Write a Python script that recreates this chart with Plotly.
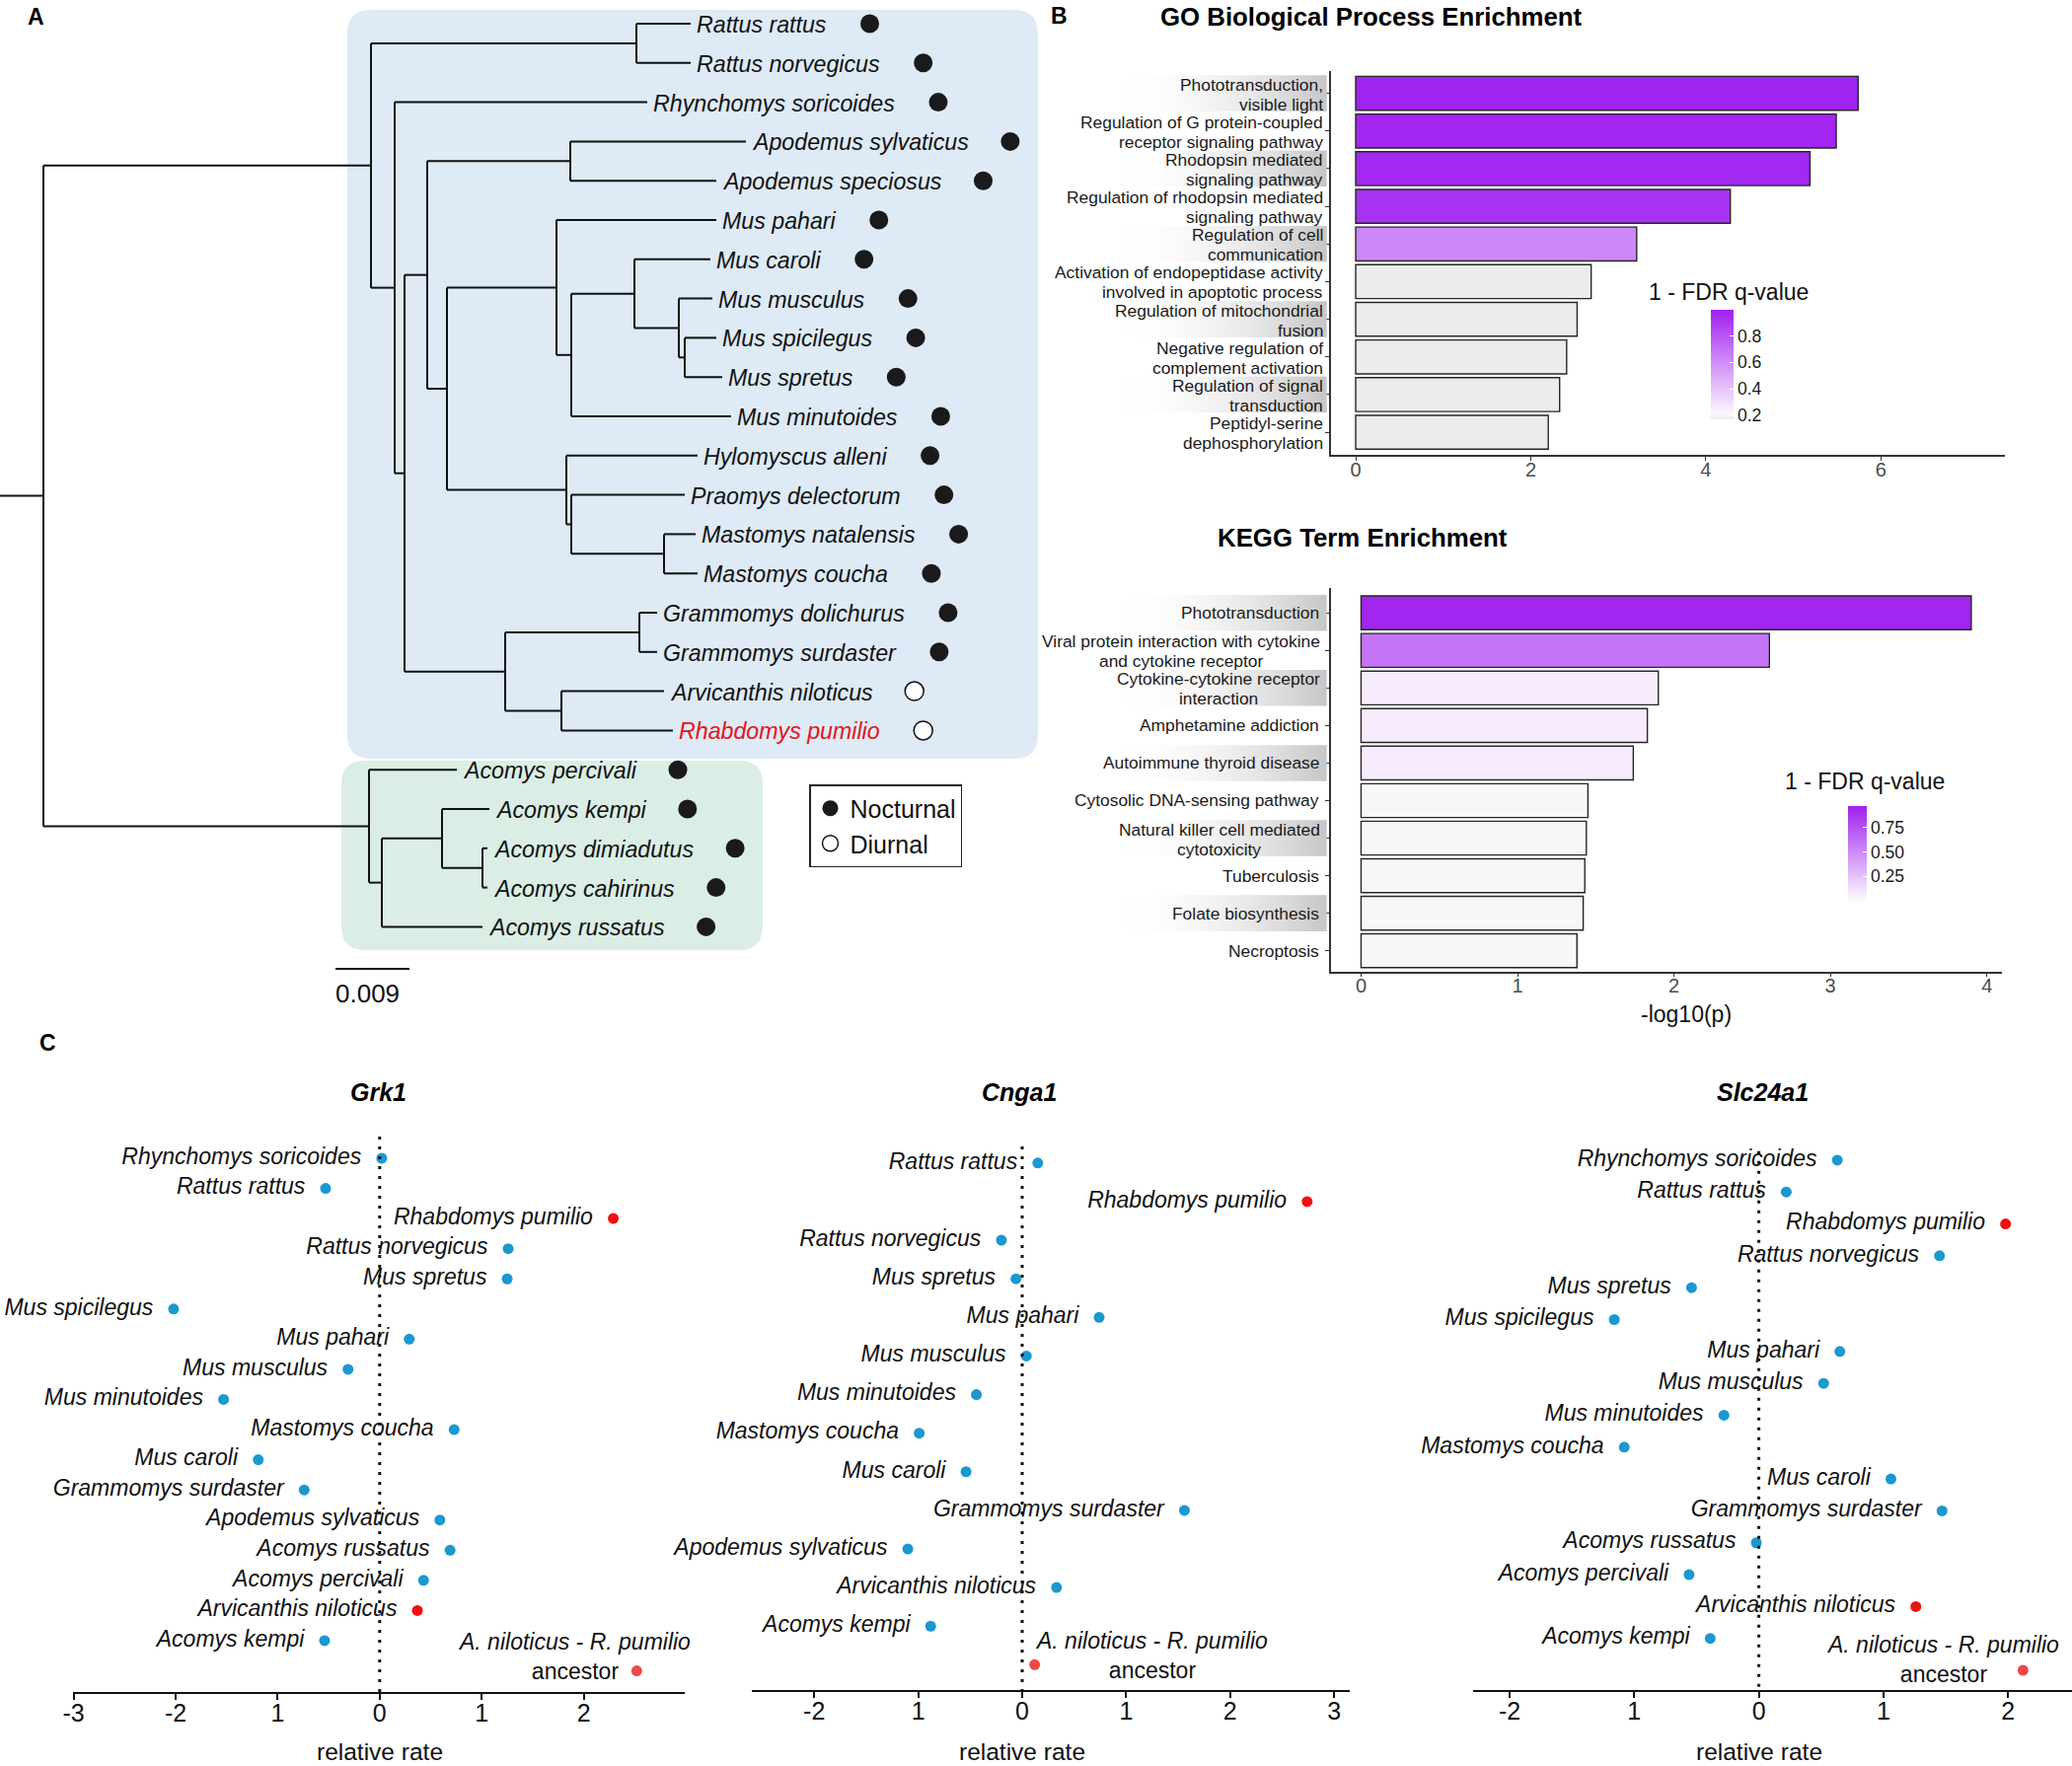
import plotly.graph_objects as go

W, H = 2100, 1790
FONT = "Liberation Sans, Arial, Helvetica, sans-serif"

# ======================= DATA =======================
# Panel A: species tree (Newick, branch lengths in substitutions/site)
tree_newick = (
    "(((Rattus_rattus:0.0066,Rattus_norvegicus:0.0066):0.03228,"
    "(Rhynchomys_soricoides:0.03072,"
    "(((Apodemus_sylvaticus:0.02136,Apodemus_speciosus:0.01776):0.0174,"
    "((Mus_pahari:0.01944,((Mus_caroli:0.00924,(Mus_musculus:0.00408,"
    "(Mus_spicilegus:0.00384,Mus_spretus:0.00456):0.00072):0.0054):0.00768,"
    "Mus_minutoides:0.01944):0.0018):0.01332,"
    "(Hylomyscus_alleni:0.01596,(Praomys_delectorum:0.0138,"
    "(Mastomys_natalensis:0.00384,Mastomys_coucha:0.00408):0.01128):0.0006):0.01452"
    "):0.0024):0.00276,"
    "((Grammomys_dolichurus:0.00216,Grammomys_surdaster:0.00216):0.01632,"
    "(Arvicanthis_niloticus:0.01248,Rhabdomys_pumilio:0.01356):0.00684):0.01224"
    "):0.0012):0.00288):0.03984,"
    "(Acomys_percivali:0.01068,((Acomys_kempi:0.00576,"
    "(Acomys_dimiadutus:0.0006,Acomys_cahirinus:0.0006):0.00492):0.00732,"
    "Acomys_russatus:0.01224):0.00156):0.0396):0.00528;"
)
diurnal_species = ["Arvicanthis niloticus", "Rhabdomys pumilio"]
focal_species = "Rhabdomys pumilio"
scale_bar_length = 0.009
scale_bar_label = "0.009"

# Panel B: GO enrichment
go_terms = [
    "Phototransduction,\nvisible light",
    "Regulation of G protein-coupled\nreceptor signaling pathway",
    "Rhodopsin mediated\nsignaling pathway",
    "Regulation of rhodopsin mediated\nsignaling pathway",
    "Regulation of cell\ncommunication",
    "Activation of endopeptidase activity\ninvolved in apoptotic process",
    "Regulation of mitochondrial\nfusion",
    "Negative regulation of\ncomplement activation",
    "Regulation of signal\ntransduction",
    "Peptidyl-serine\ndephosphorylation",
]
go_log10p = [5.74, 5.49, 5.19, 4.28, 3.21, 2.69, 2.53, 2.41, 2.33, 2.20]
go_one_minus_fdr = [0.99, 0.98, 0.97, 0.93, 0.62, 0.17, 0.17, 0.17, 0.17, 0.17]
go_ticks = [0, 2, 4, 6]

# Panel B: KEGG enrichment
kegg_terms = [
    "Phototransduction",
    "Viral protein interaction with cytokine\nand cytokine receptor",
    "Cytokine-cytokine receptor\ninteraction",
    "Amphetamine addiction",
    "Autoimmune thyroid disease",
    "Cytosolic DNA-sensing pathway",
    "Natural killer cell mediated\ncytotoxicity",
    "Tuberculosis",
    "Folate biosynthesis",
    "Necroptosis",
]
kegg_log10p = [3.90, 2.61, 1.90, 1.83, 1.74, 1.45, 1.44, 1.43, 1.42, 1.38]
kegg_one_minus_fdr = [0.95, 0.60, 0.07, 0.07, 0.07, 0.0, 0.0, 0.0, 0.0, 0.0]
kegg_ticks = [0, 1, 2, 3, 4]

# Panel C: relative evolutionary rates
ANCESTOR = "A. niloticus - R. pumilio ancestor"
grk1_species = ["Rhynchomys soricoides", "Rattus rattus", "Rhabdomys pumilio", "Rattus norvegicus",
                "Mus spretus", "Mus spicilegus", "Mus pahari", "Mus musculus", "Mus minutoides",
                "Mastomys coucha", "Mus caroli", "Grammomys surdaster", "Apodemus sylvaticus",
                "Acomys russatus", "Acomys percivali", "Arvicanthis niloticus", "Acomys kempi", ANCESTOR]
grk1_rate = [0.02, -0.53, 2.29, 1.26, 1.25, -2.02, 0.29, -0.31, -1.53, 0.73, -1.19, -0.74, 0.59,
             0.69, 0.43, 0.37, -0.54, 2.52]
grk1_highlight = ["Rhabdomys pumilio", "Arvicanthis niloticus"]

cnga1_species = ["Rattus rattus", "Rhabdomys pumilio", "Rattus norvegicus", "Mus spretus", "Mus pahari",
                 "Mus musculus", "Mus minutoides", "Mastomys coucha", "Mus caroli", "Grammomys surdaster",
                 "Apodemus sylvaticus", "Arvicanthis niloticus", "Acomys kempi", ANCESTOR]
cnga1_rate = [0.15, 2.74, -0.20, -0.06, 0.74, 0.04, -0.44, -0.99, -0.54, 1.56, -1.10, 0.33, -0.88, 0.12]
cnga1_highlight = ["Rhabdomys pumilio"]

slc24a1_species = ["Rhynchomys soricoides", "Rattus rattus", "Rhabdomys pumilio", "Rattus norvegicus",
                   "Mus spretus", "Mus spicilegus", "Mus pahari", "Mus musculus", "Mus minutoides",
                   "Mastomys coucha", "Mus caroli", "Grammomys surdaster", "Acomys russatus",
                   "Acomys percivali", "Arvicanthis niloticus", "Acomys kempi", ANCESTOR]
slc24a1_rate = [0.63, 0.22, 1.98, 1.45, -0.54, -1.16, 0.65, 0.52, -0.28, -1.08, 1.06, 1.47, -0.02,
                -0.56, 1.26, -0.39, 2.12]
slc24a1_highlight = ["Rhabdomys pumilio", "Arvicanthis niloticus"]

# ======================= HELPERS =======================
def PX(p):
    return p / W


def PY(p):
    return 1 - p / H


ARIAL_W = {' ': 278, '.': 278, '-': 333, ',': 278,
           'A': 667, 'B': 667, 'C': 722, 'D': 722, 'E': 667, 'F': 611, 'G': 778, 'H': 722, 'I': 278,
           'J': 500, 'K': 667, 'L': 556, 'M': 833, 'N': 722, 'O': 778, 'P': 667, 'Q': 778, 'R': 722,
           'S': 667, 'T': 611, 'U': 722, 'V': 667, 'W': 944, 'X': 667, 'Y': 667, 'Z': 611,
           'a': 556, 'b': 556, 'c': 500, 'd': 556, 'e': 556, 'f': 278, 'g': 556, 'h': 556, 'i': 222,
           'j': 222, 'k': 500, 'l': 222, 'm': 833, 'n': 556, 'o': 556, 'p': 556, 'q': 556, 'r': 333,
           's': 500, 't': 278, 'u': 556, 'v': 500, 'w': 722, 'x': 500, 'y': 500, 'z': 500}


def text_px(s, size):
    return sum(ARIAL_W.get(ch, 556) for ch in s) * size / 1000.0


def parse_newick(s):
    s = s.strip().rstrip(';')
    pos = [0]

    def node():
        children = []
        if s[pos[0]] == '(':
            pos[0] += 1
            while True:
                children.append(node())
                if s[pos[0]] == ',':
                    pos[0] += 1
                    continue
                if s[pos[0]] == ')':
                    pos[0] += 1
                    break
        start = pos[0]
        while pos[0] < len(s) and s[pos[0]] not in ':,()':
            pos[0] += 1
        name = s[start:pos[0]]
        length = 0.0
        if pos[0] < len(s) and s[pos[0]] == ':':
            pos[0] += 1
            start = pos[0]
            while pos[0] < len(s) and s[pos[0]] not in ',()':
                pos[0] += 1
            length = float(s[start:pos[0]])
        return {"name": name.replace('_', ' '), "length": length, "children": children}

    return node()


def rounded_rect(x0, y0, x1, y1, r):
    return (f"M {PX(x0 + r)},{PY(y0)} L {PX(x1 - r)},{PY(y0)} Q {PX(x1)},{PY(y0)} {PX(x1)},{PY(y0 + r)} "
            f"L {PX(x1)},{PY(y1 - r)} Q {PX(x1)},{PY(y1)} {PX(x1 - r)},{PY(y1)} "
            f"L {PX(x0 + r)},{PY(y1)} Q {PX(x0)},{PY(y1)} {PX(x0)},{PY(y1 - r)} "
            f"L {PX(x0)},{PY(y0 + r)} Q {PX(x0)},{PY(y0)} {PX(x0 + r)},{PY(y0)} Z")


fig = go.Figure()
annotations = []
shapes = []

# ======================= PANEL A =======================
TREE_PX_PER_UNIT = 75 / 0.009     # horizontal scale of the tree
TIP_TOP, TIP_STEP = 24, 39.8      # vertical placement of tips (px)
TREE_FONT = 23.2

root = parse_newick(tree_newick)
tips = []


def place(n, parent_x):
    n["x"] = parent_x + n["length"]
    if n["children"]:
        for c in n["children"]:
            place(c, n["x"])
        n["y"] = (n["children"][0]["y"] + n["children"][-1]["y"]) / 2
    else:
        n["y"] = len(tips)
        tips.append(n)


place(root, 0.0)
seg_x, seg_y = [], []


def collect(n, parent_x):
    seg_x.extend([parent_x, n["x"], None])
    seg_y.extend([n["y"], n["y"], None])
    if n["children"]:
        seg_x.extend([n["x"], n["x"], None])
        seg_y.extend([n["children"][0]["y"], n["children"][-1]["y"], None])
        for c in n["children"]:
            collect(c, n["x"])


collect(root, 0.0)

shapes.append(dict(type="path", xref="paper", yref="paper", layer="below",
                   path=rounded_rect(352, 10, 1052, 769, 24), fillcolor="#DEEAF5", line=dict(width=0)))
shapes.append(dict(type="path", xref="paper", yref="paper", layer="below",
                   path=rounded_rect(346, 771, 773, 963, 24), fillcolor="#DAEEE5", line=dict(width=0)))

fig.add_trace(go.Scatter(x=seg_x, y=seg_y, mode="lines", line=dict(color="#111111", width=2),
                         xaxis="x", yaxis="y", hoverinfo="skip", showlegend=False))

noct_x, noct_y, diur_x, diur_y = [], [], [], []
for t in tips:
    name = t["name"]
    annotations.append(dict(x=t["x"], y=t["y"], xref="x", yref="y", xanchor="left", yanchor="middle",
                            xshift=4, yshift=-1, showarrow=False, text=f"<i>{name}</i>",
                            font=dict(family=FONT, size=TREE_FONT,
                                      color="#E3141B" if name == focal_species else "#111111")))
    dx = t["x"] + (6 + text_px(name, TREE_FONT) + 44) / TREE_PX_PER_UNIT
    if name in diurnal_species:
        diur_x.append(dx); diur_y.append(t["y"])
    else:
        noct_x.append(dx); noct_y.append(t["y"])

fig.add_trace(go.Scatter(x=noct_x, y=noct_y, mode="markers", name="Nocturnal",
                         marker=dict(size=19, color="#1A1A1A", line=dict(width=0)),
                         xaxis="x", yaxis="y", hoverinfo="skip", showlegend=True))
fig.add_trace(go.Scatter(x=diur_x, y=diur_y, mode="markers", name="Diurnal",
                         marker=dict(size=19, color="white", line=dict(width=1.5, color="#111111")),
                         xaxis="x", yaxis="y", hoverinfo="skip", showlegend=True))

sb_x0 = 340 / TREE_PX_PER_UNIT
sb_y = (982 - TIP_TOP) / TIP_STEP
fig.add_trace(go.Scatter(x=[sb_x0, sb_x0 + scale_bar_length], y=[sb_y, sb_y], mode="lines",
                         line=dict(color="#111111", width=2), xaxis="x", yaxis="y",
                         hoverinfo="skip", showlegend=False))
annotations.append(dict(x=sb_x0, y=sb_y, xref="x", yref="y", xanchor="left", yanchor="middle",
                        yshift=-25, xshift=-2, showarrow=False, text=scale_bar_label,
                        font=dict(family=FONT, size=26, color="#111111")))

# ======================= PANEL B =======================
GO_SCALE = [[0, "#EBEBEB"], [0.05, "#FCF8FE"], [1, "#A020F0"]]
KEGG_SCALE = [[0, "#F7F7F7"], [0.04, "#FAF3FE"], [1, "#A020F0"]]
go_flat = [t.replace("\n", " ") for t in go_terms]
kegg_flat = [t.replace("\n", " ") for t in kegg_terms]
LABEL_FONT = 17.4
LINE_GAP = 20.0

fig.add_trace(go.Bar(
    x=go_log10p, y=go_flat, orientation="h", width=0.9, xaxis="x2", yaxis="y2",
    hoverinfo="skip", showlegend=False,
    marker=dict(color=go_one_minus_fdr, colorscale=GO_SCALE, cmin=0.168, cmax=1.0,
                line=dict(color="#262626", width=1.4), showscale=True,
                colorbar=dict(x=PX(1734), xanchor="left", y=PY(314), yanchor="top",
                              len=111, lenmode="pixels", thickness=23, thicknessmode="pixels",
                              outlinewidth=0, xpad=0, ypad=0, tickvals=[0.2, 0.4, 0.6, 0.8],
                              ticks="inside", ticklen=4, tickcolor="white",
                              tickfont=dict(family=FONT, size=17.5, color="#1A1A1A")))))

fig.add_trace(go.Bar(
    x=kegg_log10p, y=kegg_flat, orientation="h", width=0.9, xaxis="x3", yaxis="y3",
    hoverinfo="skip", showlegend=False,
    marker=dict(color=kegg_one_minus_fdr, colorscale=KEGG_SCALE, cmin=0.0, cmax=0.97,
                line=dict(color="#262626", width=1.4), showscale=True,
                colorbar=dict(x=PX(1873), xanchor="left", y=PY(817), yanchor="top",
                              len=96, lenmode="pixels", thickness=19, thicknessmode="pixels",
                              outlinewidth=0, xpad=0, ypad=0, tickvals=[0.25, 0.5, 0.75],
                              ticktext=["0.25", "0.50", "0.75"],
                              ticks="inside", ticklen=4, tickcolor="white",
                              tickfont=dict(family=FONT, size=17.5, color="#1A1A1A")))))

# label background bands (alternate rows) with horizontal gradient
band_grad = dict(type="horizontal", colorscale=[[0, "rgba(255,255,255,0)"], [1, "rgba(198,198,198,1)"]])
for terms, xa, ya in ((go_terms, "x4", "y4"), (kegg_terms, "x5", "y5")):
    for i in range(0, len(terms), 2):
        fig.add_trace(go.Scatter(x=[0.235, 0.985, 0.985, 0.235, 0.235],
                                 y=[i - 0.48, i - 0.48, i + 0.48, i + 0.48, i - 0.48],
                                 mode="lines", fill="toself", fillgradient=band_grad,
                                 line=dict(width=0), xaxis=xa, yaxis=ya,
                                 hoverinfo="skip", showlegend=False))


def add_term_labels(terms, flats, yref, right_px, centered):
    for t, flat in zip(terms, flats):
        lines = t.split("\n")
        n = len(lines)
        widest = max(text_px(l, LABEL_FONT) for l in lines)
        for k, line in enumerate(lines):
            off = (k - (n - 1) / 2) * LINE_GAP + (1 if n > 1 else 0)
            if centered and n > 1:
                xpos, anchor = PX(right_px - 1 - widest / 2), "center"
            else:
                xpos, anchor = PX(right_px), "right"
            annotations.append(dict(x=xpos, xref="paper", y=flat, yref=yref, xanchor=anchor,
                                    yanchor="middle", yshift=-off, showarrow=False, text=line,
                                    font=dict(family=FONT, size=LABEL_FONT, color="#1A1A1A")))


add_term_labels(go_terms, go_flat, "y2", 1343, False)
add_term_labels(kegg_terms, kegg_flat, "y3", 1339, True)

for txt, x, y in (("GO Biological Process Enrichment", 1390, 17), ("KEGG Term Enrichment", 1381, 545)):
    annotations.append(dict(x=PX(x), y=PY(y), xref="paper", yref="paper", xanchor="center",
                            yanchor="middle", showarrow=False, text=f"<b>{txt}</b>",
                            font=dict(family=FONT, size=25.8, color="#000000")))
for x, y in ((1752, 296), (1890, 792)):
    annotations.append(dict(x=PX(x), y=PY(y), xref="paper", yref="paper", xanchor="center",
                            yanchor="middle", showarrow=False, text="1 - FDR q-value",
                            font=dict(family=FONT, size=23, color="#111111")))
annotations.append(dict(x=PX(1709), y=PY(1028), xref="paper", yref="paper", xanchor="center",
                        yanchor="middle", showarrow=False, text="-log10(p)",
                        font=dict(family=FONT, size=23, color="#111111")))

# ======================= PANEL C =======================
BLUE, RED, ANC_RED = "#1B98D1", "#F20F0F", "#F04848"
NBSP = "\u00a0"
genes = [
    ("Grk1", grk1_species, grk1_rate, grk1_highlight, "x6", "y6", 383, -0.72, -63, 15),
    ("Cnga1", cnga1_species, cnga1_rate, cnga1_highlight, "x7", "y7", 1033, -0.43, 118, 9),
    ("Slc24a1", slc24a1_species, slc24a1_rate, slc24a1_highlight, "x8", "y8", 1786, -0.28, -81, 11),
]
c_ranges = {}
for gene, sp, rate, hl, xa, ya, title_x, line_top, anc_dx, anc_dy in genes:
    colors = [ANC_RED if s == ANCESTOR else (RED if s in hl else BLUE) for s in sp]
    texts = ["" if s == ANCESTOR else f"<i>{s}</i>{NBSP}{NBSP}" for s in sp]
    fig.add_trace(go.Scatter(x=rate, y=sp, mode="markers+text", text=texts,
                             textposition="middle left", cliponaxis=False,
                             textfont=dict(family=FONT, size=23, color="#111111"),
                             marker=dict(size=11, color=colors, line=dict(width=0)),
                             xaxis=xa, yaxis=ya, hoverinfo="skip", showlegend=False))
    anc_i = sp.index(ANCESTOR)
    annotations.append(dict(x=rate[anc_i], y=ANCESTOR, xref=xa, yref=ya, xanchor="center",
                            yanchor="middle", align="center", xshift=anc_dx, yshift=anc_dy,
                            showarrow=False, text="<i>A. niloticus - R. pumilio</i><br>ancestor",
                            font=dict(family=FONT, size=23, color="#111111")))
    annotations.append(dict(x=PX(title_x), y=PY(1107), xref="paper", yref="paper", xanchor="center",
                            yanchor="middle", showarrow=False, text=f"<b><i>{gene}</i></b>",
                            font=dict(family=FONT, size=25, color="#000000")))
    annotations.append(dict(x=0, y=PY(1775), xref=xa, yref="paper", xanchor="center",
                            yanchor="middle", showarrow=False, text="relative rate",
                            font=dict(family=FONT, size=24.5, color="#111111")))
    c_ranges[gene] = line_top

# panel letters
for letter, x, y in (("A", 36, 17), ("B", 1073, 16), ("C", 48, 1057)):
    annotations.append(dict(x=PX(x), y=PY(y), xref="paper", yref="paper", xanchor="center",
                            yanchor="middle", showarrow=False, text=f"<b>{letter}</b>",
                            font=dict(family=FONT, size=23, color="#000000")))

# ======================= AXES =======================
hidden = dict(visible=False, showgrid=False, zeroline=False, fixedrange=True)


def c_axes(px0, px1, zero_px, unit_px, ticks, ticktext, first_px, step_px, axis_px):
    xr = [(px0 - zero_px) / unit_px, (px1 - zero_px) / unit_px]
    yr = [(axis_px - first_px) / step_px, (1140 - first_px) / step_px]
    xa = dict(domain=[PX(px0), PX(px1)], range=xr, showgrid=False, zeroline=False, showline=True,
              linecolor="#111111", linewidth=1.5, ticks="outside", ticklen=6, tickwidth=1.5,
              tickcolor="#111111", tickvals=ticks, ticktext=ticktext, ticklabelstandoff=-8,
              tickfont=dict(family=FONT, size=25, color="#111111"))
    ya = dict(domain=[PY(axis_px), PY(1140)], range=yr, visible=False, showgrid=False,
              zeroline=False, type="category")
    return xa, ya


xa6, ya6 = c_axes(73.7, 693.7, 384.8, 103.4, [-3, -2, -1, 0, 1, 2, 3],
                  ["-3", "-2", "1", "0", "1", "2", "3"], 1174, 30.56, 1715)
xa7, ya7 = c_axes(761.6, 1368.3, 1036.0, 105.4, [-2, -1, 0, 1, 2, 3],
                  ["-2", "1", "0", "1", "2", "3"], 1178.8, 39.12, 1713)
xa8, ya8 = c_axes(1493, 2100, 1782.6, 126.3, [-2, -1, 0, 1, 2],
                  ["-2", "1", "0", "1", "2"], 1175.9, 32.32, 1713)

for gene, sp, rate, hl, xa, ya, *_ in genes:
    yr = {"x6": ya6, "x7": ya7, "x8": ya8}[xa]["range"]
    shapes.append(dict(type="line", xref=xa, yref=ya, x0=0, x1=0, y0=c_ranges[gene], y1=yr[0],
                       line=dict(color="#111111", width=3, dash="3px,7px")))

bx_common = dict(showgrid=False, zeroline=False, showline=True, linecolor="#333333", linewidth=1.5,
                 ticks="outside", ticklen=4, tickcolor="#333333", ticklabelstandoff=-8,
                 tickfont=dict(family=FONT, size=20, color="#4D4D4D"))
by_common = dict(showgrid=False, zeroline=False, showline=True, linecolor="#333333", linewidth=1.5,
                 ticks="outside", ticklen=4, tickcolor="#333333", showticklabels=False,
                 type="category")

go_yr = [9.6, -0.6]
kegg_yr = [9.55, -0.67]

fig.update_layout(
    width=W, height=H, margin=dict(l=0, r=0, t=0, b=0, pad=0, autoexpand=False),
    paper_bgcolor="white", plot_bgcolor="rgba(0,0,0,0)",
    font=dict(family=FONT, color="#111111"),
    hovermode=False,
    showlegend=True,
    legend=dict(x=PX(820), y=PY(795), xanchor="left", yanchor="top", bordercolor="#222222",
                borderwidth=1.5, bgcolor="white", font=dict(family=FONT, size=25, color="#111111"),
                itemwidth=30, tracegroupgap=0),
    xaxis=dict(domain=[0, PX(1060)], range=[0, 1060 / TREE_PX_PER_UNIT], anchor="y", **hidden),
    yaxis=dict(domain=[PY(1040), 1], range=[(1040 - TIP_TOP) / TIP_STEP, -TIP_TOP / TIP_STEP],
               anchor="x", **hidden),
    xaxis2=dict(domain=[PX(1349), PX(2032)], range=[-0.282, 7.417], anchor="y2",
                tickvals=go_ticks, **bx_common),
    yaxis2=dict(domain=[PY(461), PY(71.7)], range=go_yr, anchor="x2", **by_common),
    xaxis3=dict(domain=[PX(1349), PX(2028.5)], range=[-0.192, 4.093], anchor="y3",
                tickvals=kegg_ticks, **bx_common),
    yaxis3=dict(domain=[PY(984.6), PY(595.7)], range=kegg_yr, anchor="x3", **by_common),
    xaxis4=dict(domain=[PX(1060), PX(1349)], range=[0, 1], anchor="y4", **hidden),
    yaxis4=dict(domain=[PY(461), PY(71.7)], range=go_yr, anchor="x4", **hidden),
    xaxis5=dict(domain=[PX(1060), PX(1349)], range=[0, 1], anchor="y5", **hidden),
    yaxis5=dict(domain=[PY(984.6), PY(595.7)], range=kegg_yr, anchor="x5", **hidden),
    xaxis6=dict(anchor="y6", **xa6), yaxis6=dict(anchor="x6", **ya6),
    xaxis7=dict(anchor="y7", **xa7), yaxis7=dict(anchor="x7", **ya7),
    xaxis8=dict(anchor="y8", **xa8), yaxis8=dict(anchor="x8", **ya8),
    annotations=annotations,
    shapes=shapes,
)

fig.write_html("out.html", include_plotlyjs=True, config={"displayModeBar": False},
               post_script="document.body.style.margin='0px';document.body.style.overflow='hidden';")
